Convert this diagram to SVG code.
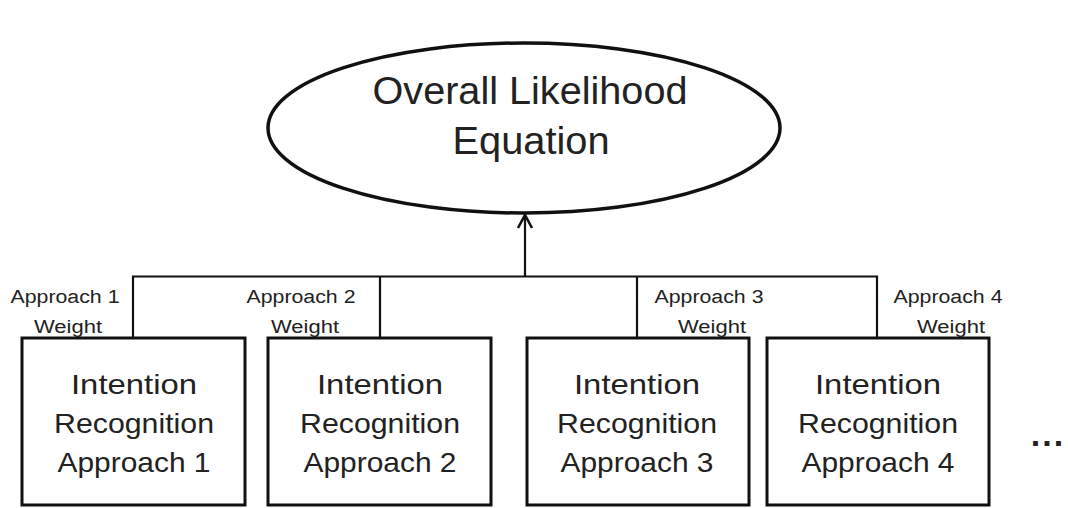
<svg xmlns="http://www.w3.org/2000/svg" width="1068" height="508" viewBox="0 0 1068 508">
<style>
.box{fill:#fff;stroke:#111;stroke-width:3}
.ell{fill:#fff;stroke:#111;stroke-width:3.5}
.conn{fill:none;stroke:#111;stroke-width:2.2}
.big{font-family:"Liberation Sans",Arial,sans-serif;font-size:28px;fill:#222;text-anchor:middle}
.title{font-family:"Liberation Sans",Arial,sans-serif;font-size:38px;fill:#222;text-anchor:middle}
.lbl{font-family:"Liberation Sans",Arial,sans-serif;font-size:18px;fill:#222;text-anchor:middle}
</style>
<defs>
<marker id="arr" markerWidth="18" markerHeight="18" refX="15" refY="8" orient="auto" markerUnits="userSpaceOnUse" viewBox="0 0 18 16">
<path d="M2,1 L15,8 L2,15" fill="none" stroke="#111" stroke-width="2.6"/>
</marker>
</defs>
<rect width="1068" height="508" fill="#fff"/>
<g id="connectors">
<path class="conn" d="M133,338 V276.5 H877 V338"/>
<path class="conn" d="M380,338 V276.5"/>
<path class="conn" d="M637,338 V276.5"/>
<path class="conn" d="M525,276.5 V215" marker-end="url(#arr)"/>
</g>
<g id="overall">
<ellipse class="ell" cx="524" cy="128" rx="256" ry="85"/>
<text class="title" x="530" y="104" textLength="315" lengthAdjust="spacingAndGlyphs">Overall Likelihood</text>
<text class="title" x="531" y="154" textLength="157" lengthAdjust="spacingAndGlyphs">Equation</text>
</g>
<g id="approach1">
<rect class="box" x="22" y="338" width="223" height="167"/>
<text class="big" x="134" y="394" textLength="126" lengthAdjust="spacingAndGlyphs">Intention</text>
<text class="big" x="134" y="433" textLength="160" lengthAdjust="spacingAndGlyphs">Recognition</text>
<text class="big" x="134" y="472" textLength="153" lengthAdjust="spacingAndGlyphs">Approach 1</text>
</g>
<g id="approach2">
<rect class="box" x="268" y="338" width="223" height="167"/>
<text class="big" x="380" y="394" textLength="126" lengthAdjust="spacingAndGlyphs">Intention</text>
<text class="big" x="380" y="433" textLength="160" lengthAdjust="spacingAndGlyphs">Recognition</text>
<text class="big" x="380" y="472" textLength="153" lengthAdjust="spacingAndGlyphs">Approach 2</text>
</g>
<g id="approach3">
<rect class="box" x="527" y="338" width="222" height="167"/>
<text class="big" x="637" y="394" textLength="126" lengthAdjust="spacingAndGlyphs">Intention</text>
<text class="big" x="637" y="433" textLength="160" lengthAdjust="spacingAndGlyphs">Recognition</text>
<text class="big" x="637" y="472" textLength="153" lengthAdjust="spacingAndGlyphs">Approach 3</text>
</g>
<g id="approach4">
<rect class="box" x="767" y="338" width="222" height="167"/>
<text class="big" x="878" y="394" textLength="126" lengthAdjust="spacingAndGlyphs">Intention</text>
<text class="big" x="878" y="433" textLength="160" lengthAdjust="spacingAndGlyphs">Recognition</text>
<text class="big" x="878" y="472" textLength="153" lengthAdjust="spacingAndGlyphs">Approach 4</text>
</g>
<g id="weights">
<text class="lbl" x="65" y="303" textLength="109" lengthAdjust="spacingAndGlyphs">Approach 1</text>
<text class="lbl" x="68" y="333" textLength="68" lengthAdjust="spacingAndGlyphs">Weight</text>
<text class="lbl" x="301" y="303" textLength="109" lengthAdjust="spacingAndGlyphs">Approach 2</text>
<text class="lbl" x="305" y="333" textLength="68" lengthAdjust="spacingAndGlyphs">Weight</text>
<text class="lbl" x="709" y="303" textLength="109" lengthAdjust="spacingAndGlyphs">Approach 3</text>
<text class="lbl" x="712" y="333" textLength="68" lengthAdjust="spacingAndGlyphs">Weight</text>
<text class="lbl" x="948" y="303" textLength="109" lengthAdjust="spacingAndGlyphs">Approach 4</text>
<text class="lbl" x="951" y="333" textLength="68" lengthAdjust="spacingAndGlyphs">Weight</text>
</g>
<g id="ellipsis">
<text x="1048" y="446" font-family="Liberation Sans,Arial,sans-serif" font-size="34" font-weight="bold" fill="#222" text-anchor="middle" letter-spacing="2">...</text>
</g>
</svg>
